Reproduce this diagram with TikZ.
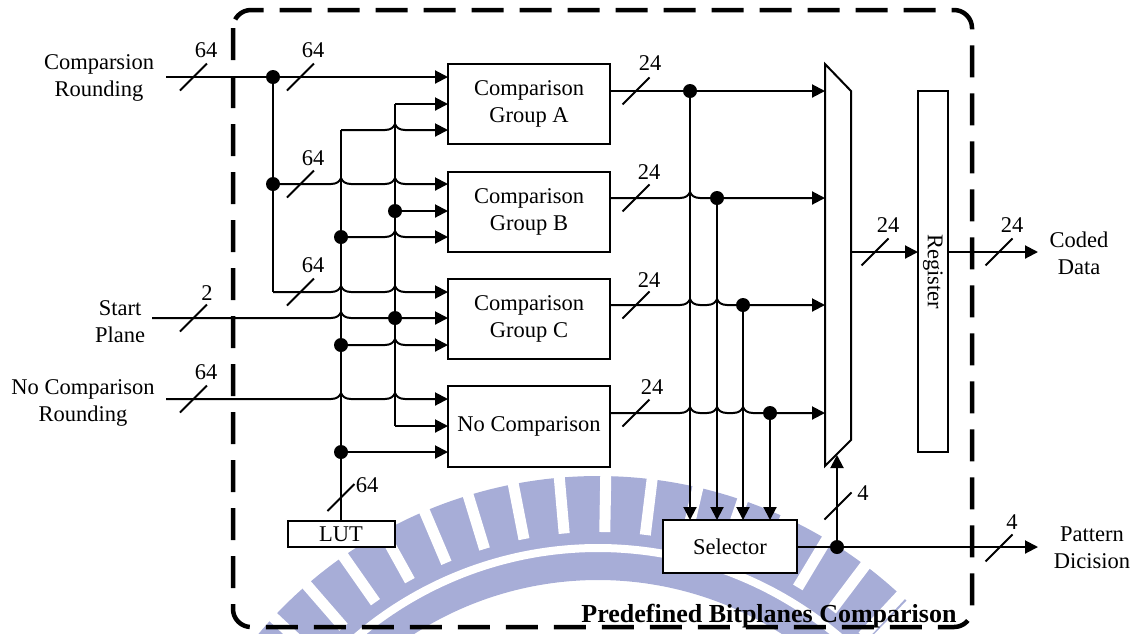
\documentclass[tikz,border=0pt]{standalone}
\usepackage{fontspec}
\setmainfont{Liberation Serif}
\usetikzlibrary{arrows.meta,calc}
\definecolor{wm}{RGB}{167,173,215}
\tikzset{
  wire/.style={line width=2pt,line join=round},
  arr/.style={wire,-{Triangle[length=13pt,width=13pt]}},
  blk/.style={draw,line width=2pt,fill=white,inner sep=0pt},
  lbl/.style={font=\fontsize{22.5}{27}\selectfont,inner sep=0pt,align=center},
  dot/.style={circle,fill=black,minimum size=14pt,inner sep=0pt},
  hop/.style 2 args={insert path={-- ({#1-10},#2) .. controls ({#1-4},#2) and ({#1-1},{#2-3}) .. (#1,{#2-6}) .. controls ({#1+1},{#2-3}) and ({#1+4},#2) .. ({#1+10},#2)}},
  sl/.pic={\draw[line width=2pt] (-13.5,13.5) -- (13.5,-13.5);},
}
\begin{document}
\begin{tikzpicture}[x=1pt,y=-1pt]
\useasboundingbox (0,0) rectangle (1137,633);
% watermark
\begin{scope}
\clip (0,0) rectangle (1137,633);
\fill[wm] plot[domain=-62:44,samples=107] ({598+444*sin(\x)},{920-444*cos(\x)}) -- plot[domain=44:-62,samples=107] ({598+340*sin(\x)},{920-340*cos(\x)}) -- cycle;
\fill[white] plot[domain=-62:44,samples=107] ({598+376*sin(\x)},{920-376*cos(\x)}) -- plot[domain=44:-62,samples=107] ({598+368*sin(\x)},{920-368*cos(\x)}) -- cycle;
\foreach \a in {-59,-53,...,43} {
  \fill[white] ({598+388*sin(\a)-5.5*cos(\a)},{920-388*cos(\a)-5.5*sin(\a)}) -- ({598+450*sin(\a)-5.5*cos(\a)},{920-450*cos(\a)-5.5*sin(\a)}) -- ({598+450*sin(\a)+5.5*cos(\a)},{920-450*cos(\a)+5.5*sin(\a)}) -- ({598+388*sin(\a)+5.5*cos(\a)},{920-388*cos(\a)+5.5*sin(\a)}) -- cycle;
}
\end{scope}
% boundary
\draw[line width=4.5pt,dash pattern=on 32pt off 16pt,rounded corners=18pt] (233,10) rectangle (972,627);
\node[font=\fontsize{26}{30}\selectfont\bfseries,inner sep=0pt,anchor=base] (title) at (769,622) {Predefined Bitplanes Comparison};

% blocks
\node[blk,lbl,minimum width=162pt,minimum height=80pt] (A) at (529,104) {Comparison\\Group A};
\node[blk,lbl,minimum width=162pt,minimum height=80pt] (B) at (529,212) {Comparison\\Group B};
\node[blk,lbl,minimum width=162pt,minimum height=80pt] (C) at (529,319) {Comparison\\Group C};
\node[blk,lbl,minimum width=162pt,minimum height=81pt] (N) at (529,426.5) {No Comparison};
\node[blk,lbl,minimum width=107pt,minimum height=26pt] (L) at (341,534) {LUT};
\node[blk,lbl,minimum width=134pt,minimum height=53pt] (S) at (730,546.5) {Selector};
\node[blk,minimum width=30pt,minimum height=361pt] (R) at (933,271.5) {};
\node[lbl,rotate=-90] (Rt) at (R.center) {Register};
\draw[wire,line join=miter] (825,64) -- (851,91) -- (851,440) -- (825,466) -- cycle;

% outside labels
\node[lbl] (lCR) at (99,78) {Comparsion\\Rounding};
\node[lbl] (lSP) at (120,322) {Start\\Plane};
\node[lbl] (lNC) at (83,403) {No Comparison\\Rounding};
\node[lbl] (lCD) at (1079,253) {Coded\\Data};
\node[lbl] (lPD) at (1092,548) {Pattern\\Dicision};

% coordinates
\coordinate (inCR) at (166,77);
\coordinate (inSP) at (152,318);
\coordinate (inNC) at (166,399);
\coordinate (A1) at (448,77);  \coordinate (A2) at (448,104); \coordinate (A3) at (448,130);
\coordinate (B1) at (448,184); \coordinate (B2) at (448,211); \coordinate (B3) at (448,237);
\coordinate (C1) at (448,292); \coordinate (C2) at (448,318); \coordinate (C3) at (448,345);
\coordinate (N1) at (448,399); \coordinate (N2) at (448,426); \coordinate (N3) at (448,452);
\coordinate (j3) at (273,292);
\coordinate (t2) at (395,104); \coordinate (b2) at (395,426);
\coordinate (t1) at (341,130);
\coordinate (oA) at (610,91); \coordinate (oB) at (610,198); \coordinate (oC) at (610,305); \coordinate (oN) at (610,413);
\coordinate (M1) at (825,91); \coordinate (M2) at (825,198); \coordinate (M3) at (825,305); \coordinate (M4) at (825,413);
\coordinate (S1) at (690,520); \coordinate (S2) at (717,520); \coordinate (S3) at (743,520); \coordinate (S4) at (770,520);
\coordinate (Mb) at (837,455);
\coordinate (Mo) at (851,252); \coordinate (Ri) at (918,252); \coordinate (Ro) at (948,252);
\coordinate (CD) at (1038,252); \coordinate (PD) at (1038,547);
\coordinate (So) at (797,547);

% junction dots
\node[dot] (j1) at (273,77) {};
\node[dot] (j2) at (273,184) {};
\node[dot] (k1) at (395,211) {};
\node[dot] (k2) at (395,318) {};
\node[dot] (m1) at (341,237) {};
\node[dot] (m2) at (341,345) {};
\node[dot] (m3) at (341,452) {};
\node[dot] (p1) at (690,91) {};
\node[dot] (p2) at (717,198) {};
\node[dot] (p3) at (743,305) {};
\node[dot] (p4) at (770,413) {};
\node[dot] (q) at (837,547) {};

% left wiring
\draw[arr] (inCR) -- (j1) -- (A1);
\draw[wire] (j1) -- (j2) -- (j3);
\draw[arr] (j2) [hop={341}{184}] [hop={395}{184}] -- (B1);
\draw[arr] (j3) [hop={341}{292}] [hop={395}{292}] -- (C1);
\draw[wire] (t2) -- (b2);
\draw[arr] (t2) -- (A2);
\draw[arr] (k1) -- (B2);
\draw[arr] (inSP) [hop={341}{318}] -- (k2) -- (C2);
\draw[arr] (b2) -- (N2);
\draw[wire] (t1) -- (L.north);
\draw[arr] (t1) [hop={395}{130}] -- (A3);
\draw[arr] (m1) [hop={395}{237}] -- (B3);
\draw[arr] (m2) [hop={395}{345}] -- (C3);
\draw[arr] (m3) -- (N3);
\draw[arr] (inNC) [hop={341}{399}] [hop={395}{399}] -- (N1);

% right wiring
\draw[arr] (oA) -- (p1) -- (M1);
\draw[arr] (oB) [hop={690}{198}] -- (p2) -- (M2);
\draw[arr] (oC) [hop={690}{305}] [hop={717}{305}] -- (p3) -- (M3);
\draw[arr] (oN) [hop={690}{413}] [hop={717}{413}] [hop={743}{413}] -- (p4) -- (M4);
\draw[arr] (p1) -- (S1);
\draw[arr] (p2) -- (S2);
\draw[arr] (p3) -- (S3);
\draw[arr] (p4) -- (S4);
\draw[arr] (So) -- (q) -- (PD);
\draw[arr] (q) -- (Mb);
\draw[arr] (Mo) -- (Ri);
\draw[arr] (Ro) -- (CD);

% bus-width slashes
\pic at (193.5,77) {sl};
\pic at (300.5,77) {sl};
\pic at (300.5,184) {sl};
\pic at (300.5,292) {sl};
\pic at (193.5,318) {sl};
\pic at (193.5,399) {sl};
\pic at (341,497.5) {sl};
\pic at (636,91) {sl};
\pic at (636,198) {sl};
\pic at (636,305) {sl};
\pic at (636,413) {sl};
\pic at (875,252) {sl};
\pic at (999,252) {sl};
\pic at (838,506) {sl};
\pic at (999,548) {sl};

% width labels
\node[lbl] (w1) at (206,50) {64};
\node[lbl] (w2) at (313,50) {64};
\node[lbl] (w3) at (313,158) {64};
\node[lbl] (w4) at (313,265) {64};
\node[lbl] (w5) at (207,293) {2};
\node[lbl] (w6) at (206,372) {64};
\node[lbl] (w7) at (367,485) {64};
\node[lbl] (w8) at (650,63) {24};
\node[lbl] (w9) at (649,172) {24};
\node[lbl] (w10) at (649,280) {24};
\node[lbl] (w11) at (652,387) {24};
\node[lbl] (w12) at (888,225) {24};
\node[lbl] (w13) at (1012,225) {24};
\node[lbl] (w14) at (863,493) {4};
\node[lbl] (w15) at (1012,522) {4};
\end{tikzpicture}
\end{document}
